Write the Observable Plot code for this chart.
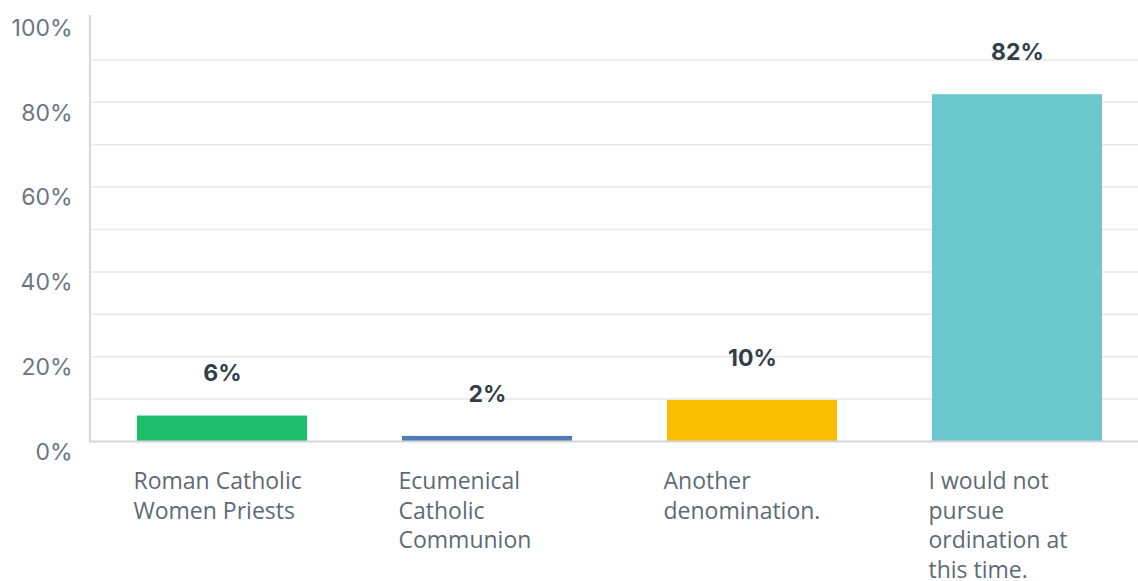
<!DOCTYPE html>
<html>
<head>
<meta charset="utf-8">
<script src="https://cdn.jsdelivr.net/npm/d3@7"></script>
<script src="https://cdn.jsdelivr.net/npm/@observablehq/plot@0.6"></script>
<style>
  html, body { margin: 0; padding: 0; background: #fff; overflow: hidden; }
  svg { display: block; }
</style>
</head>
<body>
<div id="chart"></div>
<script>
const categories = [
  "Roman Catholic\nWomen Priests",
  "Ecumenical\nCatholic\nCommunion",
  "Another\ndenomination.",
  "I would not\npursue\nordination at\nthis time."
];
const values = [6, 1.2, 9.7, 81.8];
const valueLabels = ["6%", "2%", "10%", "82%"];
const colors = ["#1DBD6E", "#507CB6", "#F9BE00", "#6BC8CD"];
const yTicks = [0, 20, 40, 60, 80, 100];
const gridTicks = [10, 20, 30, 40, 50, 60, 70, 80, 90];

const data = categories.map((c, i) => ({cat: c, value: values[i], label: valueLabels[i], color: colors[i]}));

const chart = Plot.plot({
  width: 1138,
  height: 581,
  marginLeft: 89,
  marginRight: -12,
  marginTop: 17,
  marginBottom: 140,
  x: {domain: categories, paddingInner: 0.36, paddingOuter: 0.18, axis: null},
  y: {domain: [0, 100], axis: null},
  style: {background: "#fff"},
  marks: [
    Plot.ruleY(gridTicks, {stroke: "#e9e9e9", strokeWidth: 1.5}),
    Plot.barY(data, {x: "cat", y: "value", fill: "color"}),
    Plot.ruleY([0], {stroke: "#d6d6d6", strokeWidth: 2}),
    Plot.ruleX([categories[0]], {x: d => d, dx: -132.6, y1: 0, y2: 100.5, stroke: "#d6d6d6", strokeWidth: 2}),
    Plot.text(yTicks, {
      y: d => d, text: d => d + "%", frameAnchor: "left", dx: -17, dy: 11,
      textAnchor: "end", fill: "#6B7680", fontSize: 23, fontFamily: "Inter"
    }),
    Plot.text(data, {
      x: "cat", y: "value", text: "label", dy: -42,
      fill: "#333E48", fontWeight: "bold", fontSize: 23, fontFamily: "Inter"
    }),
    Plot.text(data, {
      x: "cat", y: () => 0, text: "cat", dx: -89, dy: 27,
      textAnchor: "start", lineAnchor: "top", lineHeight: 29.5 / 23,
      fill: "#5F6A73", fontSize: 23, fontFamily: "Open Sans"
    })
  ]
});
document.getElementById("chart").appendChild(chart);
</script>
</body>
</html>
